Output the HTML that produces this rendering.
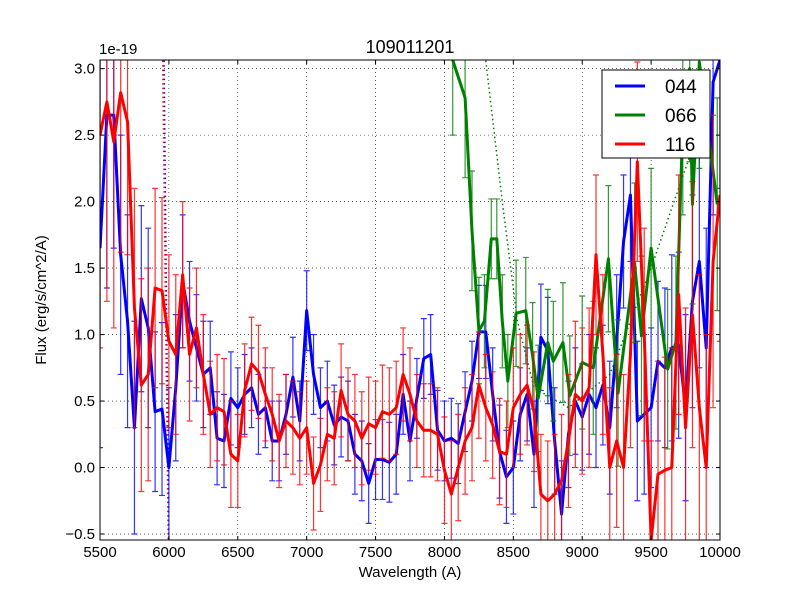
<!DOCTYPE html>
<html><head><meta charset="utf-8"><style>
html,body{margin:0;padding:0;background:#fff;width:800px;height:600px;overflow:hidden;}
svg{display:block;font-family:"Liberation Sans","DejaVu Sans",sans-serif;}
</style></head><body>
<svg id="chart" width="800" height="600" xmlns="http://www.w3.org/2000/svg">
<rect width="800" height="600" fill="#fff"/>
<text x="410" y="53" text-anchor="middle" font-size="18">109011201</text>
<text x="99" y="54" font-size="15">1e-19</text>
<text x="410" y="577" text-anchor="middle" font-size="15">Wavelength (A)</text>
<text transform="translate(46,300) rotate(-90)" text-anchor="middle" font-size="15">Flux (erg/s/cm^2/A)</text>
<defs><clipPath id="clip"><rect x="100" y="60" width="620" height="480"/></clipPath></defs>
<g id="grid"></g>
<g id="plot" clip-path="url(#clip)"></g>
<g id="axes"></g>
<g id="legend">
<rect x="602" y="70" width="108" height="88" fill="#fff" stroke="#000" stroke-width="1"/>
<line x1="615" y1="86" x2="645" y2="86" stroke="#0000ff" stroke-width="3"/>
<text x="665" y="93" font-size="19">044</text>
<line x1="615" y1="115" x2="645" y2="115" stroke="#008000" stroke-width="3"/>
<text x="665" y="122" font-size="19">066</text>
<line x1="615" y1="144" x2="645" y2="144" stroke="#ff0000" stroke-width="3"/>
<text x="665" y="151" font-size="19">116</text>
</g>
</svg>
<script>
const blueX0 = 5500, blueStep = 50;
const blueY = [1.65,2.65,2.65,1.6,1.1,0.3,1.27,1.05,0.42,0.44,0.0,0.6,1.4,1.1,0.9,0.7,0.75,0.22,0.2,0.52,0.45,0.55,0.6,0.4,0.45,0.2,0.2,0.4,0.68,0.35,1.18,0.7,0.45,0.5,0.32,0.38,0.35,0.1,0.05,-0.12,0.06,0.06,0.04,0.1,0.55,0.2,0.52,0.82,0.85,0.28,0.2,0.22,0.18,0.42,0.65,1.02,1.02,0.55,0.12,-0.07,0.0,0.4,0.55,0.1,0.98,0.88,0.2,-0.35,0.25,0.5,0.38,0.55,0.45,0.62,0.3,0.95,1.7,2.05,0.35,0.4,0.45,0.8,0.75,0.9,0.92,0.45,1.25,1.55,0.9,2.9,3.1];
const blueErr = [1.5,1.3,1.0,0.9,0.8,0.8,0.7,0.75,0.6,0.65,0.6,0.55,0.5,0.45,0.4,0.4,0.35,0.35,0.35,0.35,0.3,0.3,0.3,0.3,0.3,0.3,0.3,0.3,0.3,0.3,0.3,0.3,0.3,0.3,0.3,0.3,0.3,0.3,0.3,0.3,0.3,0.3,0.3,0.3,0.3,0.3,0.3,0.3,0.3,0.3,0.3,0.3,0.3,0.3,0.3,0.35,0.35,0.35,0.35,0.35,0.35,0.35,0.35,0.4,0.4,0.4,0.4,0.4,0.4,0.4,0.4,0.45,0.45,0.45,0.5,0.5,0.5,0.5,0.6,0.6,0.6,0.6,0.6,0.7,0.7,0.7,0.8,0.8,0.9,1.0,1.0];
const redY = [2.5,2.75,2.45,2.82,2.6,1.2,0.62,0.7,1.35,1.33,0.95,0.85,1.45,0.85,1.05,0.7,0.4,0.45,0.42,0.1,0.05,0.58,0.78,0.72,0.55,0.4,0.2,0.35,0.3,0.22,0.3,-0.12,0.02,0.25,0.22,0.58,0.4,0.35,0.22,0.33,0.3,0.42,0.4,0.45,0.7,0.55,0.35,0.28,0.28,0.25,-0.02,-0.2,0.0,0.2,0.3,0.62,0.45,0.32,0.12,0.1,0.45,0.55,0.62,0.42,-0.2,-0.25,-0.2,-0.1,0.2,0.55,0.5,0.6,1.6,0.85,0.0,0.2,0.0,0.85,2.3,1.0,-0.6,-0.05,-0.02,0.0,1.3,0.3,1.15,0.45,0.0,1.55,2.05];
const redErr = [1.6,1.5,1.4,1.2,1.0,0.9,0.8,0.8,0.75,0.7,0.65,0.6,0.55,0.5,0.45,0.45,0.4,0.4,0.4,0.4,0.35,0.35,0.35,0.35,0.35,0.35,0.35,0.35,0.35,0.35,0.35,0.35,0.35,0.35,0.35,0.35,0.35,0.35,0.35,0.35,0.35,0.35,0.35,0.35,0.35,0.35,0.35,0.35,0.35,0.35,0.4,0.4,0.4,0.4,0.4,0.4,0.4,0.4,0.4,0.4,0.45,0.45,0.45,0.45,0.45,0.45,0.45,0.5,0.5,0.55,0.55,0.6,0.6,0.6,0.6,0.65,0.7,0.7,0.75,0.8,0.8,0.85,0.85,0.9,0.9,0.9,1.0,1.0,1.0,1.1,1.1];
const greenX = [8060,8150,8200,8250,8290,8340,8380,8420,8460,8520,8590,8640,8680,8750,8790,8860,8910,9000,9080,9190,9260,9380,9430,9500,9620,9680,9730,9780,9800,9850,9980];
const greenY = [3.1,2.78,1.78,1.03,1.1,1.72,1.72,1.1,0.65,1.16,1.18,0.84,0.52,0.94,0.8,0.94,0.54,0.79,0.75,1.57,0.56,1.54,0.99,1.65,0.74,0.94,2.6,3.0,1.98,3.05,1.98];
const greenErr = [0.6,0.6,0.45,0.4,0.35,0.3,0.3,0.35,0.35,0.4,0.4,0.4,0.4,0.4,0.45,0.45,0.45,0.5,0.5,0.55,0.55,0.6,0.6,0.6,0.6,0.65,0.7,0.7,0.75,0.8,0.8];
const dotBlueX = [5965,6000], dotBlueY = [3.06,-0.54];
const dotRedX = [5955,5995], dotRedY = [3.06,-0.54];
const dotGreenX = [8300,8420,8530,8650,8900,9200,9500,9800], dotGreenY = [3.06,2.0,1.1,0.6,0.45,0.7,1.5,2.4];
const xTicks = [5500,6000,6500,7000,7500,8000,8500,9000,9500,10000];
const yTicks = [-0.5,0.0,0.5,1.0,1.5,2.0,2.5,3.0];
const yTickLabels = ["\u22120.5","0.0","0.5","1.0","1.5","2.0","2.5","3.0"];

const X0=100,X1=720,Y0=60,Y1=540,XMIN=5500,XMAX=10000,YMIN=-0.545,YMAX=3.065;
const sx=v=>X0+(v-XMIN)/(XMAX-XMIN)*(X1-X0);
const syRaw=v=>Y1-(v-YMIN)/(YMAX-YMIN)*(Y1-Y0);
const sy=v=>Math.max(Y0,Math.min(Y1,syRaw(v)));
const NS="http://www.w3.org/2000/svg";
function mk(tag,attrs,parent){const e=document.createElementNS(NS,tag);for(const k in attrs)e.setAttribute(k,attrs[k]);parent.appendChild(e);return e;}
const grid=document.getElementById('grid'),plot=document.getElementById('plot'),axes=document.getElementById('axes');
xTicks.forEach((t,i)=>{
  const g=mk('line',{x1:sx(t),x2:sx(t),y1:Y0,y2:Y1,stroke:'#000','stroke-width':0.6,'stroke-dasharray':'1,3'},grid);
  
  
  const tk=mk('line',{x1:sx(t),x2:sx(t),y1:Y1,y2:Y1-4,stroke:'#000'},axes);
  
  
  mk('line',{x1:sx(t),x2:sx(t),y1:Y0,y2:Y0+4,stroke:'#000'},axes);
  const lb=mk('text',{x:sx(t),y:Y1+17,'text-anchor':'middle','font-size':15},axes);
  lb.textContent=t;
  
  
});
yTicks.forEach((t,i)=>{
  const g=mk('line',{x1:X0,x2:X1,y1:sy(t),y2:sy(t),stroke:'#000','stroke-width':0.6,'stroke-dasharray':'1,3'},grid);
  
  
  const tk=mk('line',{x1:X0,x2:X0+4,y1:sy(t),y2:sy(t),stroke:'#000'},axes);
  
  
  mk('line',{x1:X1,x2:X1-4,y1:sy(t),y2:sy(t),stroke:'#000'},axes);
  const lb=mk('text',{x:X0-5,y:sy(t)+5,'text-anchor':'end','font-size':15},axes);
  lb.textContent=yTickLabels[i];
  
  
});
const fr=mk('rect',{x:X0,y:Y0,width:X1-X0,height:Y1-Y0,fill:'none',stroke:'#000','stroke-width':1},axes);



function dotted(xs,ys,color,name){
  const p=mk('polyline',{points:xs.map((x,i)=>sx(x)+','+sy(ys[i])).join(' '),fill:'none',stroke:color,'stroke-width':1.5,'stroke-dasharray':'1.5,3'},plot);
  
  
}
dotted(dotBlueX,dotBlueY,'#0000ff','continuum-044');
dotted(dotRedX,dotRedY,'#ff0000','continuum-116');
dotted(dotGreenX,dotGreenY,'#008000','continuum-066');

function series(xs,ys,es,color,name){
  const g=mk('g',{},plot);
  
  
  xs.forEach((x,i)=>{
    const px=sx(x),a=sy(ys[i]+es[i]),b=sy(ys[i]-es[i]);
    let d=`M${px},${a}V${b}`;
    if(a>Y0) d+=`M${px-3},${a}H${px+3}`;
    if(b<Y1) d+=`M${px-3},${b}H${px+3}`;
    const e=mk('path',{d:d,stroke:color,'stroke-width':1.2,fill:'none','stroke-opacity':0.8},g);
    
    
  });
  const l=mk('polyline',{points:xs.map((x,i)=>sx(x)+','+sy(ys[i])).join(' '),fill:'none',stroke:color,'stroke-width':3,'stroke-linejoin':'round'},g);
  
  
}
const blueX=blueY.map((_,i)=>blueX0+i*blueStep);
const redX=redY.map((_,i)=>blueX0+i*blueStep);
series(blueX,blueY,blueErr,'#0000ff','044');
series(greenX,greenY,greenErr,'#008000','066');
series(redX,redY,redErr,'#ff0000','116');
</script>
</body></html>
